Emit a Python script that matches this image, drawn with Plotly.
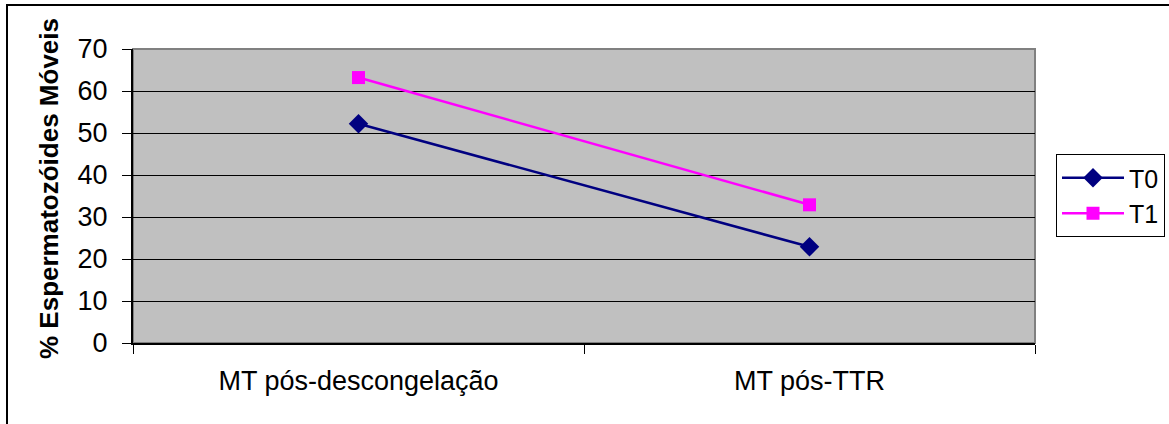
import plotly.graph_objects as go

categories = ["MT pós-descongelação", "MT pós-TTR"]
t0_values = [52.2, 22.9]
t1_values = [63.2, 32.9]
y_ticks = [0, 10, 20, 30, 40, 50, 60, 70]

W, H = 1169, 424
L, R, T, B = 133, 134, 49, 81
pw = W - L - R
ph = H - T - B

font_family = "Liberation Sans, Arial, sans-serif"

fig = go.Figure()
fig.add_trace(go.Scatter(
    x=categories, y=t0_values, name="T0", mode="lines+markers",
    line=dict(color="#000080", width=2.5),
    marker=dict(symbol="diamond", size=15, color="#000080"),
))
fig.add_trace(go.Scatter(
    x=categories, y=t1_values, name="T1", mode="lines+markers",
    line=dict(color="#FF00FF", width=2.5),
    marker=dict(symbol="square", size=13, color="#FF00FF"),
))

def px_x(px):
    return (px - L) / pw

def px_y(py):
    return (H - B - py) / ph

shapes = [
    # gray plot-area frame (top/right)
    dict(type="rect", xref="paper", yref="paper", x0=0, y0=0, x1=1, y1=1,
         line=dict(color="#808080", width=2), layer="below"),
    # outer chart border (left and top, cropped chart)
    dict(type="path", xref="paper", yref="paper",
         path=f"M {px_x(7)},{px_y(430)} L {px_x(7)},{px_y(5)} L {px_x(1175)},{px_y(5)}",
         line=dict(color="#000000", width=2)),
]

annotations = [
    dict(text="<b>% Espermatozóides Móveis</b>", xref="paper", yref="paper",
         x=px_x(49), y=px_y(189), xanchor="center", yanchor="middle",
         textangle=-90, showarrow=False, font=dict(size=26, color="black")),
]

fig.update_layout(
    width=W, height=H,
    margin=dict(l=L, r=R, t=T, b=B, autoexpand=False),
    paper_bgcolor="white",
    plot_bgcolor="#C0C0C0",
    font=dict(family=font_family, size=26, color="black"),
    showlegend=True,
    legend=dict(
        x=px_x(1056), y=px_y(154), xanchor="left", yanchor="top",
        bordercolor="black", borderwidth=1, bgcolor="white",
        font=dict(size=25), tracegroupgap=0, itemwidth=62,
    ),
    shapes=shapes,
    annotations=annotations,
    xaxis=dict(
        type="category",
        tickson="boundaries",
        ticks="outside", ticklen=9, tickcolor="black", tickwidth=1,
        showline=True, linecolor="black", linewidth=2,
        showgrid=False, zeroline=False,
        tickfont=dict(size=27),
        ticklabelstandoff=13,
        range=[-0.5, 1.5],
    ),
    yaxis=dict(
        range=[0, 70], tickvals=y_ticks, ticktext=[str(v) for v in y_ticks],
        ticks="outside", ticklen=9, tickcolor="black", tickwidth=1,
        showline=True, linecolor="black", linewidth=2,
        showgrid=True, gridcolor="black", gridwidth=1,
        zeroline=False,
        tickfont=dict(size=27),
        ticklabelstandoff=9,
    ),
)

fig.write_html("out.html")
